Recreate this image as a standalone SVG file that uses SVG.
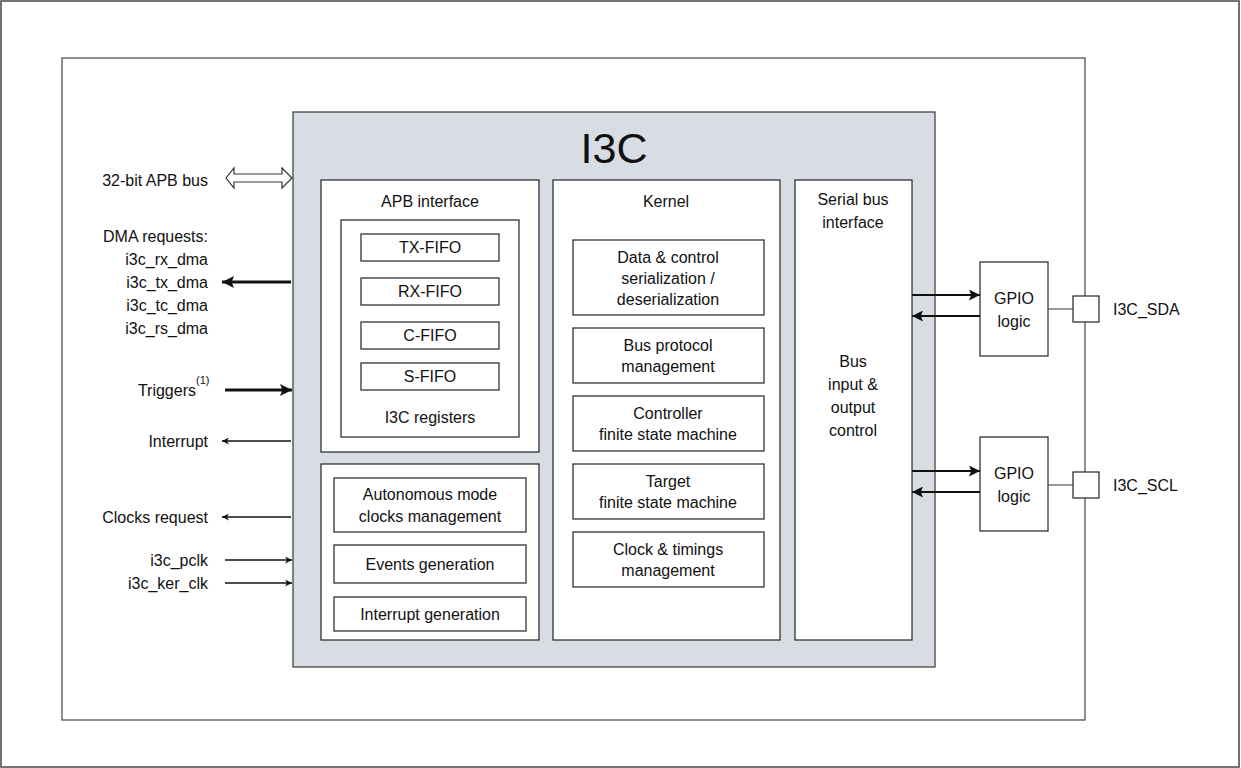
<svg xmlns="http://www.w3.org/2000/svg" width="1241" height="768" viewBox="0 0 1241 768">
<style>
text{font-family:"Liberation Sans",Arial,sans-serif;font-size:16px;fill:#111}
.m{text-anchor:middle}.e{text-anchor:end}
.b{fill:#fff;stroke:#333;stroke-width:1.3}
.l{stroke:#111;stroke-width:1.3;fill:none}
.t{stroke:#111;stroke-width:3;fill:none}
</style>
<defs>
<marker id="a" viewBox="0 0 10 10" refX="10" refY="5" markerWidth="12" markerHeight="7" markerUnits="userSpaceOnUse" orient="auto"><path d="M0,0L10,5L0,10L3,5z" fill="#111"/></marker>
<marker id="at" viewBox="0 0 10 10" refX="10" refY="5" markerWidth="18" markerHeight="12" markerUnits="userSpaceOnUse" orient="auto"><path d="M0,0L10,5L0,10L2,5z" fill="#111"/></marker>
<marker id="am" viewBox="0 0 10 10" refX="10" refY="5" markerWidth="16" markerHeight="11" markerUnits="userSpaceOnUse" orient="auto"><path d="M0,0L10,5L0,10L2,5z" fill="#111"/></marker>
</defs>
<rect x="1" y="1" width="1238" height="766" fill="#fff" stroke="#444" stroke-width="1.5"/>
<rect id="outer" x="62" y="58" width="1023" height="662" fill="#fff" stroke="#444" stroke-width="1.2"/>
<g id="i3c"><rect x="293" y="112" width="642" height="555" fill="#d8dce3" stroke="#444" stroke-width="1.3"/>
<text x="614" y="163" class="m" style="font-size:43px">I3C</text></g>
<g id="apb"><rect class="b" x="321" y="180" width="218" height="272"/>
<text x="430" y="207" class="m">APB interface</text>
<rect class="b" x="341" y="220" width="178" height="217"/>
<rect class="b" x="361" y="234" width="138" height="27"/><text x="430" y="253" class="m">TX-FIFO</text>
<rect class="b" x="361" y="278" width="138" height="27"/><text x="430" y="297" class="m">RX-FIFO</text>
<rect class="b" x="361" y="322" width="138" height="27"/><text x="430" y="341" class="m">C-FIFO</text>
<rect class="b" x="361" y="363" width="138" height="27"/><text x="430" y="382" class="m">S-FIFO</text>
<text x="430" y="423" class="m">I3C registers</text></g>
<g id="ctrl"><rect class="b" x="321" y="464" width="218" height="176"/>
<rect class="b" x="334" y="478" width="192" height="54"/><text x="430" y="500" class="m">Autonomous mode</text><text x="430" y="522" class="m">clocks management</text>
<rect class="b" x="334" y="545" width="192" height="38"/><text x="430" y="570" class="m">Events generation</text>
<rect class="b" x="334" y="597" width="192" height="34"/><text x="430" y="620" class="m">Interrupt generation</text></g>
<g id="kernel"><rect class="b" x="553" y="180" width="227" height="460"/>
<text x="666" y="207" class="m">Kernel</text>
<rect class="b" x="573" y="240" width="191" height="75"/><text x="668" y="263" class="m">Data &amp; control</text><text x="668" y="284" class="m">serialization /</text><text x="668" y="305" class="m">deserialization</text>
<rect class="b" x="573" y="328" width="191" height="55"/><text x="668" y="351" class="m">Bus protocol</text><text x="668" y="372" class="m">management</text>
<rect class="b" x="573" y="396" width="191" height="55"/><text x="668" y="419" class="m">Controller</text><text x="668" y="440" class="m">finite state machine</text>
<rect class="b" x="573" y="464" width="191" height="55"/><text x="668" y="487" class="m">Target</text><text x="668" y="508" class="m">finite state machine</text>
<rect class="b" x="573" y="532" width="191" height="55"/><text x="668" y="555" class="m">Clock &amp; timings</text><text x="668" y="576" class="m">management</text></g>
<g id="serial"><rect class="b" x="795" y="180" width="117" height="460"/>
<text x="853" y="205" class="m">Serial bus</text><text x="853" y="228" class="m">interface</text>
<text x="853" y="367" class="m">Bus</text><text x="853" y="390" class="m">input &amp;</text><text x="853" y="413" class="m">output</text><text x="853" y="436" class="m">control</text></g>
<g id="gpio1"><rect class="b" x="980" y="262" width="68" height="94"/><text x="1014" y="304" class="m">GPIO</text><text x="1014" y="327" class="m">logic</text></g>
<g id="gpio2"><rect class="b" x="980" y="437" width="68" height="94"/><text x="1014" y="479" class="m">GPIO</text><text x="1014" y="502" class="m">logic</text></g>
<g id="pins">
<line x1="1048" y1="309" x2="1073" y2="309" stroke="#555" stroke-width="1.2"/>
<line x1="1048" y1="485" x2="1073" y2="485" stroke="#555" stroke-width="1.2"/>
<rect class="b" x="1073" y="296" width="26" height="26"/><rect class="b" x="1073" y="472" width="26" height="26"/>
<text x="1113" y="315">I3C_SDA</text><text x="1113" y="491">I3C_SCL</text></g>
<g id="labels">
<text x="208" y="186" class="e">32-bit APB bus</text>
<text x="208" y="242" class="e">DMA requests:</text>
<text x="208" y="265" class="e">i3c_rx_dma</text>
<text x="208" y="288" class="e">i3c_tx_dma</text>
<text x="208" y="311" class="e">i3c_tc_dma</text>
<text x="208" y="334" class="e">i3c_rs_dma</text>
<text x="196" y="396" class="e">Triggers</text><text x="196" y="384" style="font-size:11px">(1)</text>
<text x="208" y="447" class="e">Interrupt</text>
<text x="208" y="523" class="e">Clocks request</text>
<text x="208" y="566" class="e">i3c_pclk</text>
<text x="208" y="589" class="e">i3c_ker_clk</text></g>
<g id="connectors">
<path d="M226,178L234,168V174H282V168L292,178L282,188V182H234V188Z" fill="#fff" stroke="#333" stroke-width="1.2"/>
<line class="t" x1="291" y1="282" x2="222" y2="282" marker-end="url(#at)"/>
<line class="t" x1="225" y1="390" x2="292" y2="390" marker-end="url(#at)"/>
<line class="l" x1="291" y1="441" x2="222" y2="441" marker-end="url(#a)"/>
<line class="l" x1="291" y1="517" x2="222" y2="517" marker-end="url(#a)"/>
<line class="l" x1="225" y1="560" x2="292" y2="560" marker-end="url(#a)"/>
<line class="l" x1="225" y1="583" x2="292" y2="583" marker-end="url(#a)"/>
<line class="t" style="stroke-width:2" x1="912" y1="295" x2="980" y2="295" marker-end="url(#am)"/>
<line class="t" style="stroke-width:2" x1="980" y1="316" x2="912" y2="316" marker-end="url(#am)"/>
<line class="t" style="stroke-width:2" x1="912" y1="471" x2="980" y2="471" marker-end="url(#am)"/>
<line class="t" style="stroke-width:2" x1="980" y1="492" x2="912" y2="492" marker-end="url(#am)"/>
</g>
</svg>
